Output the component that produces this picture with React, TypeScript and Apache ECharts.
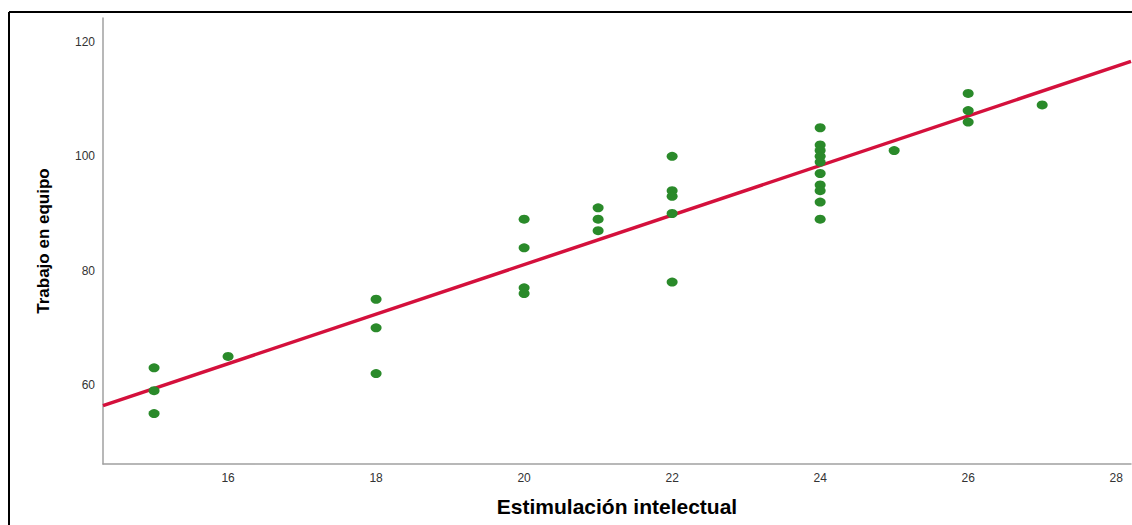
import React, { useEffect, useRef } from "react";
import * as echarts from "echarts";

const xName = "Estimulación intelectual";
const yName = "Trabajo en equipo";

// observed points grouped by Estimulación intelectual value
const pointsX15 = [63, 59, 55];
const pointsX16 = [65];
const pointsX18 = [75, 70, 62];
const pointsX20 = [89, 84, 77, 76];
const pointsX21 = [91, 89, 87];
const pointsX22 = [100, 94, 93, 90, 78];
const pointsX24 = [105, 102, 101, 100, 99, 97, 95, 94, 92, 89];
const pointsX25 = [101];
const pointsX26 = [111, 108, 106];
const pointsX27 = [109];

const groups: [number, number[]][] = [
  [15, pointsX15],
  [16, pointsX16],
  [18, pointsX18],
  [20, pointsX20],
  [21, pointsX21],
  [22, pointsX22],
  [24, pointsX24],
  [25, pointsX25],
  [26, pointsX26],
  [27, pointsX27],
];

// fitted line, read at both ends of the x range
const fitLine = [
  [14.31, 56.4],
  [28.2, 116.6],
];

const xTicks = [16, 18, 20, 22, 24, 26, 28];
const yTicks = [60, 80, 100, 120];

const xMin = 14.31;
const xMax = 28.2;
const yMin = 46.18;
const yMax = 124.2;

export default function App() {
  const ref = useRef<HTMLDivElement>(null);
  useEffect(() => {
    if (!ref.current) return;
    const chart = echarts.init(ref.current, undefined, { renderer: "svg" });
    const scatter: number[][] = [];
    groups.forEach(([x, ys]) => ys.forEach((y) => scatter.push([x, y])));
    const labelStyle = {
      color: "#333333",
      fontFamily: "Liberation Sans, Arial, sans-serif",
      fontSize: 12,
    };
    chart.setOption({
      animation: false,
      backgroundColor: "#ffffff",
      grid: { left: 103, top: 18, right: 1, bottom: 61, containLabel: false },
      xAxis: {
        type: "value",
        min: xMin,
        max: xMax,
        name: xName,
        nameLocation: "middle",
        nameGap: 32,
        nameTextStyle: {
          color: "#000000",
          fontFamily: "Liberation Sans, Arial, sans-serif",
          fontSize: 21,
          fontWeight: "bold",
        },
        axisLine: { show: true, onZero: false, lineStyle: { color: "#a0a0a0", width: 1.5 } },
        axisTick: { show: false },
        splitLine: { show: false },
        axisLabel: {
          ...labelStyle,
          margin: 8,
          customValues: xTicks,
          hideOverlap: false,
        },
      },
      yAxis: {
        type: "value",
        min: yMin,
        max: yMax,
        name: yName,
        nameLocation: "middle",
        nameGap: 51,
        nameTextStyle: {
          color: "#000000",
          fontFamily: "Liberation Sans, Arial, sans-serif",
          fontSize: 17,
          fontWeight: "bold",
        },
        axisLine: { show: true, onZero: false, lineStyle: { color: "#a0a0a0", width: 1.5 } },
        axisTick: { show: false },
        splitLine: { show: false },
        axisLabel: {
          ...labelStyle,
          margin: 8,
          customValues: yTicks,
          hideOverlap: false,
        },
      },
      series: [
        {
          type: "line",
          data: fitLine,
          symbol: "none",
          lineStyle: { color: "#d4103c", width: 3.5 },
          z: 2,
        },
        {
          type: "scatter",
          data: scatter,
          symbol: "circle",
          symbolSize: [11, 9],
          itemStyle: { color: "#2a8a2a", opacity: 1 },
          z: 3,
        },
      ],
      graphic: [
        {
          type: "line",
          shape: { x1: 9, y1: 12, x2: 1140, y2: 12 },
          style: { stroke: "#000000", lineWidth: 2 },
          z: 10,
        },
        {
          type: "line",
          shape: { x1: 9, y1: 12, x2: 9, y2: 530 },
          style: { stroke: "#000000", lineWidth: 2 },
          z: 10,
        },
      ],
    });
    return () => chart.dispose();
  }, []);
  return (
    <div
      ref={ref}
      style={{ position: "fixed", left: 0, top: 0, width: 1132, height: 525, background: "#fff" }}
    />
  );
}
